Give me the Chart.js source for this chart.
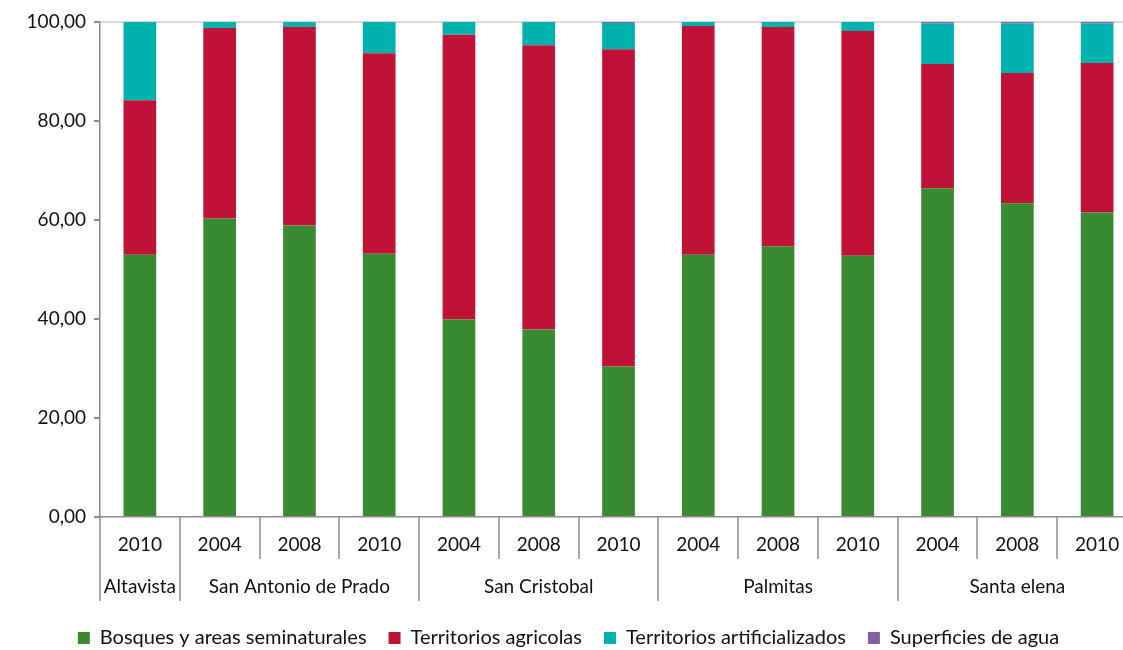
<!DOCTYPE html>
<html>
<head>
<meta charset="utf-8">
<script src="https://cdn.jsdelivr.net/npm/chart.js@4.4.0/dist/chart.umd.min.js"></script>
<style>
  html, body { margin: 0; padding: 0; background: #fff; overflow: hidden; }
  #wrap { width: 1123px; height: 650px; overflow: hidden; }
</style>
</head>
<body>
<div id="wrap"><canvas id="myChart" width="1140" height="650"></canvas></div>
<script>
// years (bottom row) and zones (second row)
var years = ["2010", "2004", "2008", "2010", "2004", "2008", "2010", "2004", "2008", "2010", "2004", "2008", "2010"];
var zones = ["Altavista", "San Antonio de Prado", "San Cristobal", "Palmitas", "Santa elena"];
var zoneOf = [0, 1, 1, 1, 2, 2, 2, 3, 3, 3, 4, 4, 4];

var bosques = [53.0, 60.3, 58.9, 53.2, 39.9, 37.9, 30.4, 53.0, 54.7, 52.8, 66.4, 63.4, 61.5];
var agricolas = [31.2, 38.5, 40.1, 40.5, 57.5, 57.4, 64.1, 46.2, 44.3, 45.4, 25.1, 26.3, 30.2];
var artificiales = [15.8, 1.2, 1.0, 6.3, 2.6, 4.7, 5.3, 0.8, 1.0, 1.8, 8.2, 10.0, 8.0];
var agua = [0.0, 0.0, 0.0, 0.0, 0.0, 0.0, 0.2, 0.0, 0.0, 0.0, 0.3, 0.3, 0.3];

var FONT = "Lato, 'Open Sans', sans-serif";

var groupAxis = {
    id: "groupAxis",
    afterDraw: function(chart){
        var ctx = chart.ctx;
        var x = chart.scales.x;
        var bottom = chart.chartArea.bottom;
        var step = x.getPixelForValue(1) - x.getPixelForValue(0);
        ctx.save();
        ctx.strokeStyle = "#8c8c8c";
        ctx.lineWidth = 1.5;
        // separators
        for(var i = 0; i < years.length; i++){
            var left = Math.round(x.getPixelForValue(i) - step / 2);
            var newZone = (i == 0 || zoneOf[i] != zoneOf[i - 1]);
            ctx.beginPath();
            ctx.moveTo(left, bottom);
            ctx.lineTo(left, newZone ? bottom + 84 : bottom + 42);
            ctx.stroke();
        }
        ctx.fillStyle = "#111";
        ctx.font = "19px " + FONT;
        ctx.textAlign = "center";
        ctx.textBaseline = "middle";
        for(var i = 0; i < years.length; i++){
            ctx.fillText(years[i], x.getPixelForValue(i), bottom + 28);
        }
        for(var z = 0; z < zones.length; z++){
            var first = zoneOf.indexOf(z);
            var last = zoneOf.lastIndexOf(z);
            var mid = (x.getPixelForValue(first) + x.getPixelForValue(last)) / 2;
            ctx.fillText(zones[z], mid, bottom + 70);
        }
        ctx.restore();
    }
};

var canvas = document.getElementById("myChart").getContext("2d");
var chart = new Chart(canvas, {
    type: "bar",
    data: {
        labels: years,
        datasets: [
            {label: "Bosques y areas seminaturales", data: bosques, backgroundColor: "#3a8a32"},
            {label: "Territorios agricolas", data: agricolas, backgroundColor: "#c01236"},
            {label: "Territorios artificializados", data: artificiales, backgroundColor: "#00b2ae"},
            {label: "Superficies de agua", data: agua, backgroundColor: "#7f60a0"}
        ]
    },
    options: {
        responsive: false,
        animation: false,
        layout: {padding: {top: 22, right: 3, left: 0, bottom: -8}},
        datasets: {bar: {categoryPercentage: 1, barPercentage: 0.41, borderWidth: 0}},
        plugins: {
            tooltip: {enabled: false},
            legend: {
                position: "bottom",
                labels: {
                    font: {family: FONT, size: 20},
                    color: "#111",
                    boxWidth: 12,
                    boxHeight: 12,
                    padding: 22
                }
            }
        },
        scales: {
            x: {
                stacked: true,
                ticks: {display: false},
                grid: {display: false},
                border: {display: true, color: "#8c8c8c", width: 1.5},
                afterFit: function(scale){ scale.height = 89; }
            },
            y: {
                stacked: true,
                min: 0,
                max: 100,
                ticks: {
                    stepSize: 20,
                    padding: 8,
                    color: "#111",
                    font: {family: FONT, size: 19},
                    callback: function(v){ return v.toFixed(2).replace(".", ","); }
                },
                grid: {
                    color: function(c){ return c.tick && c.tick.value == 100 ? "#d9d9d9" : "rgba(0,0,0,0)"; },
                    lineWidth: 2,
                    tickColor: "#8c8c8c",
                    tickLength: 6
                },
                border: {color: "#8c8c8c", width: 1.5},
                afterFit: function(scale){ scale.width = 100; }
            }
        }
    },
    plugins: [groupAxis]
});
</script>
</body>
</html>
